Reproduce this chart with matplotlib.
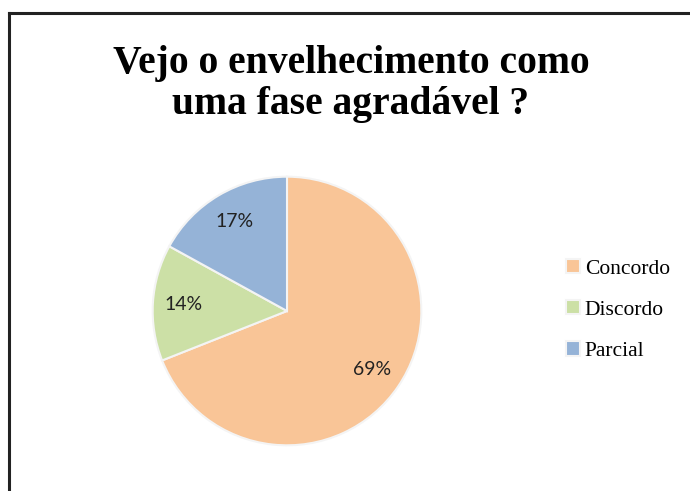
import matplotlib.pyplot as plt
from matplotlib.lines import Line2D

# data
labels = ['Concordo', 'Discordo', 'Parcial']
values = [69, 14, 17]
colors = ['#F9C597', '#CCE0A6', '#95B3D7']
title = 'Vejo o envelhecimento como\numa fase agradável ?'

W, H = 690, 491
fig = plt.figure(figsize=(W / 100, H / 100), dpi=100)
fig.patch.set_facecolor('white')

# frame lines (left and top only visible in the crop)
fig.add_artist(Line2D([9 / W, 9 / W], [0, 1 - 13 / H], color='#222222', lw=2.2,
                      transform=fig.transFigure))
fig.add_artist(Line2D([9 / W, 1], [1 - 13 / H, 1 - 13 / H], color='#222222', lw=2.2,
                      transform=fig.transFigure))

fig.text(351 / W, 1 - 84 / H, title, ha='center', va='center',
         fontsize=28.5, fontweight='bold', family='Liberation Serif', linespacing=1.15)

# pie
cx, cy, r = 287, 311, 137
ax = fig.add_axes([(cx - r) / W, (H - cy - r) / H, 2 * r / W, 2 * r / H])
wedges, texts, autotexts = ax.pie(values, colors=colors, startangle=90, counterclock=False,
                                  autopct='%1.0f%%', pctdistance=0.77, radius=1,
                                  wedgeprops=dict(edgecolor='#f4f4f4', linewidth=1.5))
for t in autotexts:
    t.set_fontsize(14)
    t.set_family('Lato')
    t.set_color('#222222')
ax.set_xlim(-1.02, 1.02)
ax.set_ylim(-1.02, 1.02)
ax.set_aspect('equal')
ax.axis('off')

leg = fig.legend(wedges, labels, loc='center left', bbox_to_anchor=(547 / W, 1 - 310 / H),
                 frameon=False, handlelength=0.65, handleheight=0.65, handletextpad=0.2,
                 labelspacing=1.0, prop={'family': 'Liberation Serif', 'size': 15.5})

fig.savefig('out.png', dpi=100)
